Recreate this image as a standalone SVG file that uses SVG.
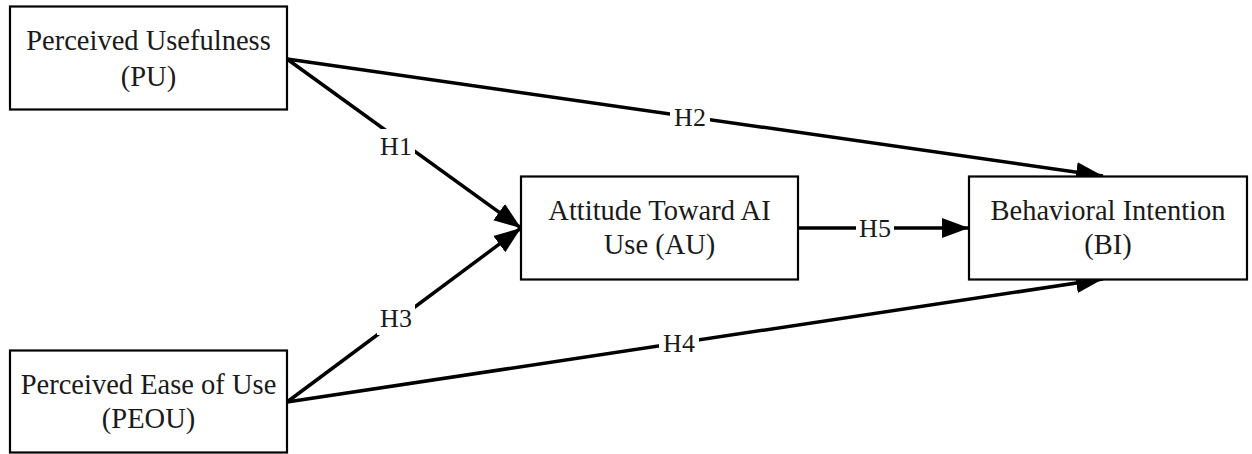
<svg xmlns="http://www.w3.org/2000/svg" width="1252" height="454" viewBox="0 0 1252 454">
<style>
.box{fill:#fff;stroke:#000;stroke-width:2.2}
.t{font-family:"Liberation Serif","Times New Roman",serif;font-size:28.5px;fill:#1a1a1a;text-anchor:middle}
.l{font-family:"Liberation Serif","Times New Roman",serif;font-size:26px;fill:#1a1a1a;text-anchor:middle;dominant-baseline:central}
.c{stroke:#000;stroke-width:3.5;fill:none;marker-end:url(#ah)}
.bg{fill:#fff}
</style>
<defs>
<marker id="ah" markerUnits="userSpaceOnUse" markerWidth="28" markerHeight="24" viewBox="0 0 28 24" refX="27" refY="12" orient="auto">
<path d="M0,2 L27,12 L0,22 Z" fill="#000"/>
</marker>
</defs>
<rect width="1252" height="454" fill="#fff"/>
<g id="connectors">
<line class="c" x1="287" y1="59" x2="521" y2="228"/>
<line class="c" x1="287" y1="59" x2="1103" y2="176"/>
<line class="c" x1="287" y1="402" x2="521" y2="228"/>
<line class="c" x1="287" y1="402" x2="1103" y2="279"/>
<line class="c" x1="798" y1="228" x2="969" y2="228"/>
<rect class="bg" x="377" y="129" width="38" height="34"/>
<text class="l" x="396" y="146">H1</text>
<rect class="bg" x="670" y="101" width="40" height="32"/>
<text class="l" x="690" y="117">H2</text>
<rect class="bg" x="377" y="301" width="38" height="34"/>
<text class="l" x="396" y="318">H3</text>
<rect class="bg" x="659" y="327" width="40" height="32"/>
<text class="l" x="679" y="343">H4</text>
<rect class="bg" x="856" y="213" width="38" height="30"/>
<text class="l" x="875" y="228">H5</text>
</g>
<g id="PU">
<rect class="box" x="10" y="6.5" width="277" height="103"/>
<text class="t" x="148.5" y="50">Perceived Usefulness</text>
<text class="t" x="148.5" y="86">(PU)</text>
</g>
<g id="PEOU">
<rect class="box" x="10" y="350.5" width="277" height="102"/>
<text class="t" x="148.5" y="394">Perceived Ease of Use</text>
<text class="t" x="148.5" y="428">(PEOU)</text>
</g>
<g id="AU">
<rect class="box" x="521" y="176.5" width="277" height="103"/>
<text class="t" x="659.5" y="219.5">Attitude Toward AI</text>
<text class="t" x="659.5" y="254">Use (AU)</text>
</g>
<g id="BI">
<rect class="box" x="969" y="176.5" width="278" height="103"/>
<text class="t" x="1108" y="219.5">Behavioral Intention</text>
<text class="t" x="1108" y="254">(BI)</text>
</g>
</svg>
